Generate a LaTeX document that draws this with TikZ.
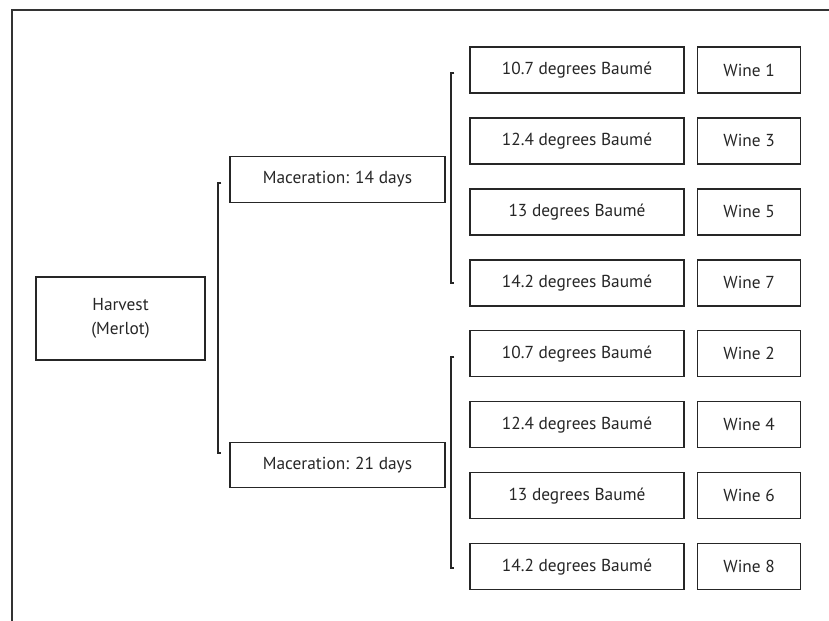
\documentclass[tikz,border=0pt]{standalone}
\usepackage{fontspec}
\setmainfont{PT Sans}
\usepackage{tikz}
\usetikzlibrary{positioning}
\usetikzlibrary{calc}
\tikzstyle{Abox}=[draw=black!85,line width=1.1pt,inner sep=0,text=black!85,
                font=\fontsize{14.8}{20.5}\selectfont,align=center]
\tikzstyle{Aharv}=[Abox,minimum width=5.07cm,minimum height=2.49cm]
\tikzstyle{Amac}=[Abox,minimum width=6.45cm,minimum height=1.37cm]
\tikzstyle{Adeg}=[Abox,minimum width=6.42cm,minimum height=1.38cm]
\tikzstyle{Awine}=[Abox,minimum width=3.09cm,minimum height=1.38cm]
\tikzstyle{brk}=[line width=1.6pt,black!85]
\tikzstyle{frame}=[line width=0.9pt,black!80]

\begin{document}
\begin{tikzpicture}[x=0.03cm,y=-0.03cm,node distance=0.71cm]
\useasboundingbox (0,0) rectangle (829,621);

% outer frame, cut at the right and bottom
\coordinate (fbl) at (12,621);
\coordinate (ftl) at (12,10);
\coordinate (ftr) at (829,10);
\draw[frame] (fbl) -- (ftl) -- (ftr);

\node[Aharv] (harv) at (120.5,318.5) {Harvest\\(Merlot)};
\node[Amac] (mac14) at (337.5,179.5) {Maceration: 14 days};
\node[Amac] (mac21) at (337.5,465) {Maceration: 21 days};

% degrees column
\node[Adeg] (deg1) at (577,70) {10.7 degrees Baumé};
\node[Adeg, below=of deg1] (deg3) {12.4 degrees Baumé};
\node[Adeg, below=of deg3] (deg5) {13 degrees Baumé};
\node[Adeg, below=of deg5] (deg7) {14.2 degrees Baumé};
\node[Adeg, below=of deg7] (deg2) {10.7 degrees Baumé};
\node[Adeg, below=of deg2] (deg4) {12.4 degrees Baumé};
\node[Adeg, below=of deg4] (deg6) {13 degrees Baumé};
\node[Adeg, below=of deg6] (deg8) {14.2 degrees Baumé};

% wines
\node[Awine, right=0.37cm of deg1] (w1) {Wine 1};
\node[Awine, right=0.37cm of deg3] (w3) {Wine 3};
\node[Awine, right=0.37cm of deg5] (w5) {Wine 5};
\node[Awine, right=0.37cm of deg7] (w7) {Wine 7};
\node[Awine, right=0.37cm of deg2] (w2) {Wine 2};
\node[Awine, right=0.37cm of deg4] (w4) {Wine 4};
\node[Awine, right=0.37cm of deg6] (w6) {Wine 6};
\node[Awine, right=0.37cm of deg8] (w8) {Wine 8};

% brackets
\draw[brk] ($(mac14.west)+(-8,3.5)$) -- ++(-3,0) |- ($(mac21.west)+(-8,-12)$);
\draw[brk] ($(deg1.west)+(-15,3)$) -- ++(-3,0) |- ($(deg7.west)+(-15,0)$);
\draw[brk] ($(deg2.west)+(-15,3)$) -- ++(-3,0) |- ($(deg8.west)+(-15,1)$);
\end{tikzpicture}
\end{document}
